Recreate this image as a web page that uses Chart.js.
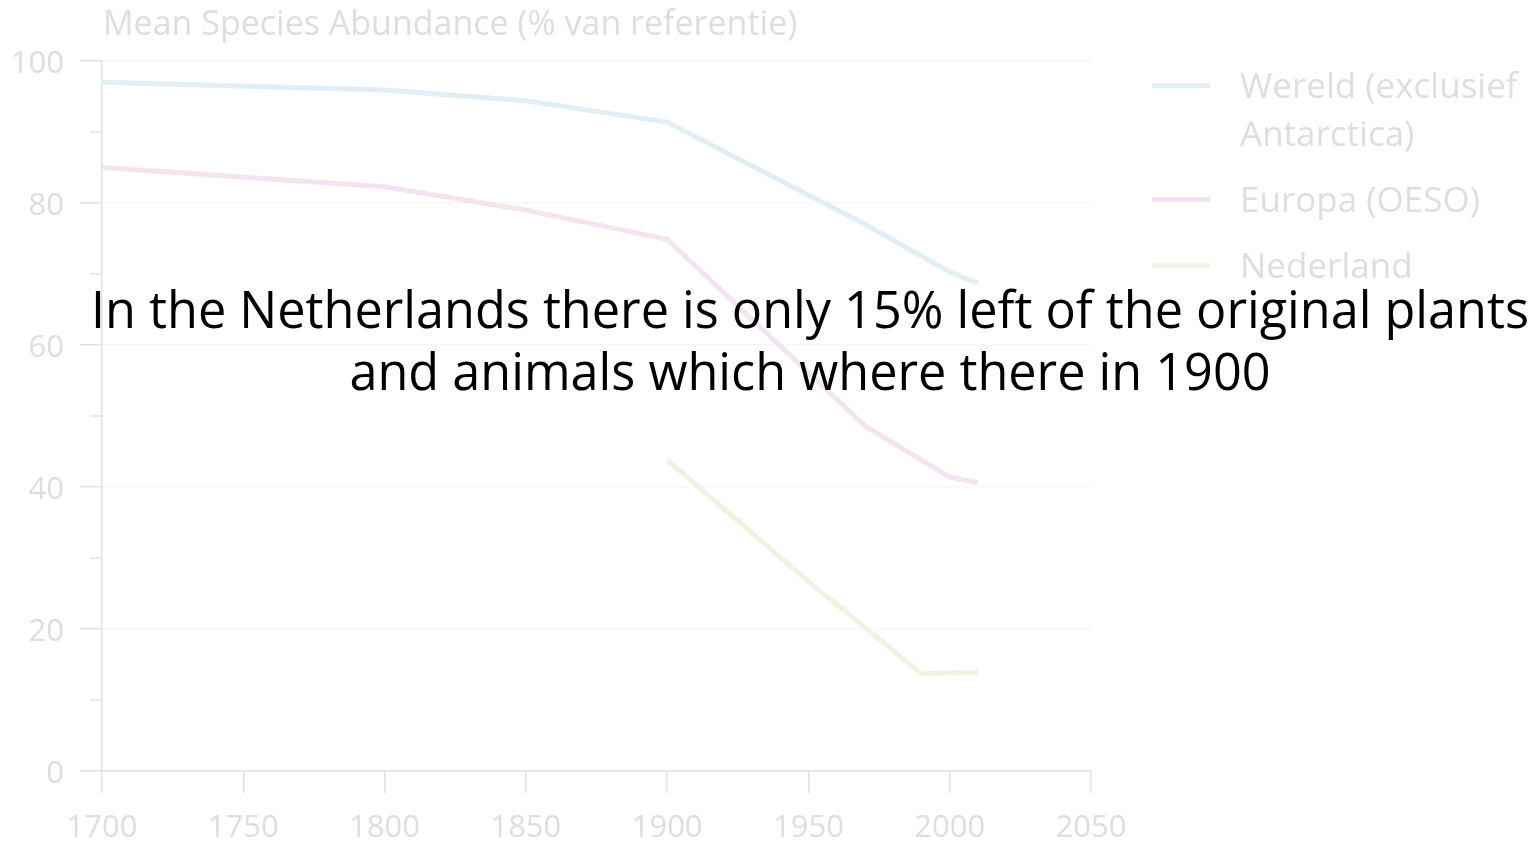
<!DOCTYPE html>
<html>
<head>
<meta charset="utf-8">
<script src="https://cdn.jsdelivr.net/npm/chart.js@4"></script>
<style>
  html, body { margin: 0; padding: 0; background: #fff; }
  #wrap { position: relative; width: 1540px; height: 845px; overflow: hidden; }
  #chart { position: absolute; left: 0; top: 0; }
  .title { position: absolute; left: 103px; top: -1px; font: 34px "Open Sans"; color: #dedede; white-space: nowrap; }
  .legend { position: absolute; left: 1152px; top: 61px; font: 35px "Open Sans"; color: #dedede; white-space: nowrap; }
  .item { position: relative; padding-left: 88px; line-height: 48px; margin-bottom: 18px; }
  .item span { position: absolute; left: 0; top: 22px; width: 58px; height: 5px; }
  .note { position: absolute; left: 0; width: 1620px; top: 278px; text-align: center; font: 50.4px "Open Sans"; line-height: 62px; color: #000; white-space: nowrap; }
</style>
</head>
<body>
<div id="wrap">
  <canvas id="chart" width="1540" height="845"></canvas>
  <div class="title">Mean Species Abundance (% van referentie)</div>
  <div class="legend" id="legend"></div>
  <div class="note">In the Netherlands there is only 15% left of the original plants<br>and animals which where there in 1900</div>
</div>
<script>
const seriesNames = ["Wereld (exclusief\nAntarctica)", "Europa (OESO)", "Nederland"];
const seriesColors = ["#e3edf4", "#f2e4f0", "#f0f2e2"];

const wereldYears = [1700, 1800, 1850, 1900, 1970, 2000, 2010];
const wereldValues = [97.0, 95.9, 94.4, 91.4, 77.0, 70.3, 68.7];

const europaYears = [1700, 1800, 1850, 1900, 1970, 2000, 2010];
const europaValues = [85.0, 82.3, 79.0, 74.9, 48.6, 41.4, 40.6];

const nederlandYears = [1900, 1950, 1990, 2010];
const nederlandValues = [43.8, 26.7, 13.7, 13.9];

const yearTicks = [1700, 1750, 1800, 1850, 1900, 1950, 2000, 2050];

function toPoints(xs, ys) {
  return xs.map((x, i) => ({ x: x, y: ys[i] }));
}

const allYears = [wereldYears, europaYears, nederlandYears];
const allValues = [wereldValues, europaValues, nederlandValues];

// short ticks at the odd tens on the y axis
const minorTicks = {
  id: "minorTicks",
  afterDraw(chart) {
    const y = chart.scales.y;
    const ctx = chart.ctx;
    ctx.save();
    ctx.strokeStyle = "#e2e2e2";
    ctx.lineWidth = 1.5;
    [10, 30, 50, 70, 90].forEach((v) => {
      const py = y.getPixelForValue(v);
      ctx.beginPath();
      ctx.moveTo(90, py);
      ctx.lineTo(y.right, py);
      ctx.stroke();
    });
    ctx.restore();
  },
};

const ctx = document.getElementById("chart").getContext("2d");
new Chart(ctx, {
  type: "line",
  data: {
    datasets: seriesNames.map((name, i) => ({
      label: name,
      data: toPoints(allYears[i], allValues[i]),
      borderColor: seriesColors[i],
      borderWidth: 5,
      pointRadius: 0,
      tension: 0,
      fill: false,
    })),
  },
  options: {
    responsive: false,
    animation: false,
    events: [],
    layout: { padding: { left: 0, top: 61, right: 449, bottom: 0 } },
    plugins: { legend: { display: false }, tooltip: { enabled: false } },
    scales: {
      x: {
        type: "linear",
        min: 1700,
        max: 2050,
        afterBuildTicks: (scale) => { scale.ticks = yearTicks.map((v) => ({ value: v })); },
        afterFit: (scale) => { scale.height = 74; },
        border: { color: "#e2e2e2", width: 1.5 },
        grid: { drawOnChartArea: false, tickLength: 22, color: "#e2e2e2", lineWidth: 1.5 },
        ticks: {
          color: "#dedede",
          font: { family: "Open Sans", size: 31 },
          padding: 17,
          maxRotation: 0,
          callback: (v) => String(v),
        },
      },
      y: {
        min: 0,
        max: 100,
        afterFit: (scale) => { scale.width = 102; },
        border: { color: "#e2e2e2", width: 1.5 },
        grid: { tickLength: 22, color: "#f7f7f7", tickColor: "#e2e2e2", lineWidth: 1.5 },
        ticks: { stepSize: 20, color: "#dedede", font: { family: "Open Sans", size: 31 }, padding: 16, labelOffset: 3 },
      },
    },
  },
  plugins: [minorTicks],
});

const legend = document.getElementById("legend");
seriesNames.forEach((name, i) => {
  const div = document.createElement("div");
  div.className = "item";
  const sw = document.createElement("span");
  sw.style.background = seriesColors[i];
  div.appendChild(sw);
  name.split("\n").forEach((line, j) => {
    if (j > 0) div.appendChild(document.createElement("br"));
    div.appendChild(document.createTextNode(line));
  });
  legend.appendChild(div);
});
</script>
</body>
</html>
